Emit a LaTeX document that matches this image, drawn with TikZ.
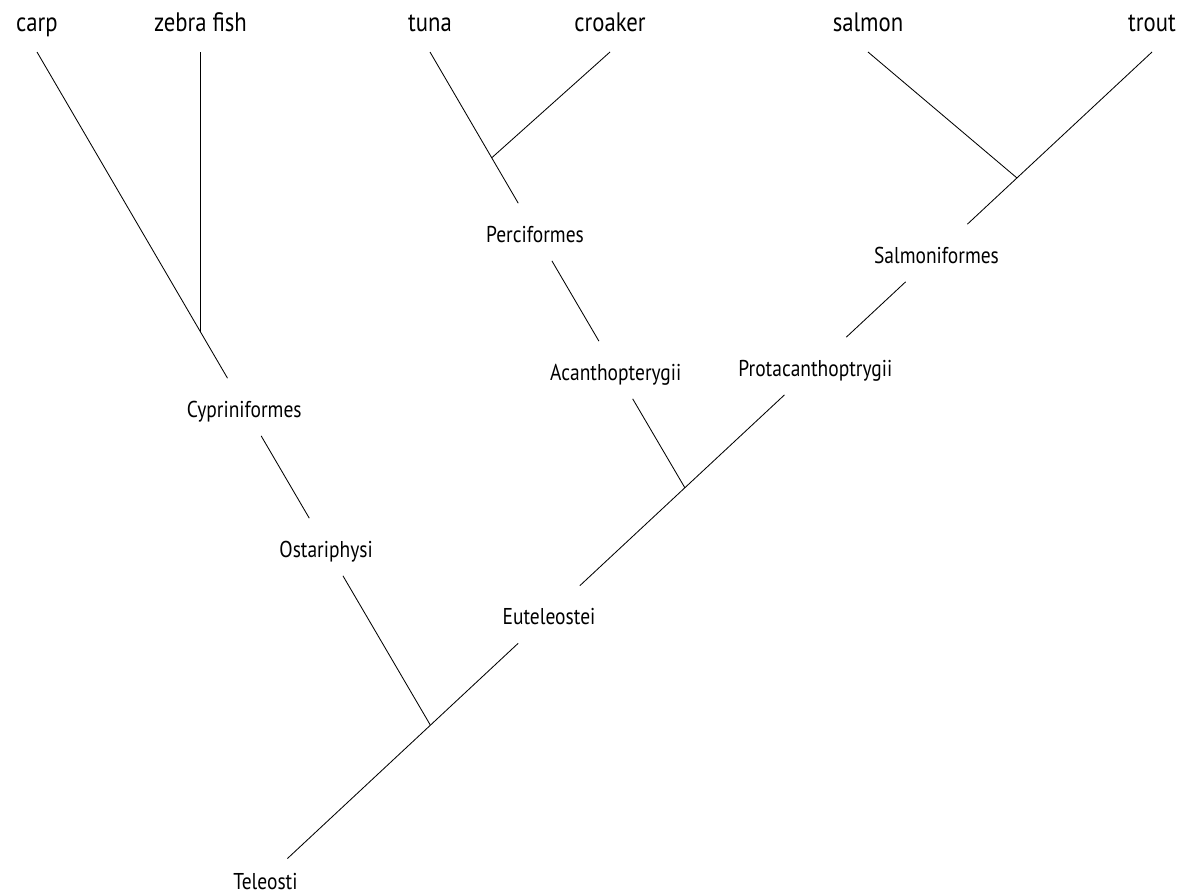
\documentclass[tikz,border=0pt]{standalone}
\usepackage{fontspec}
\setmainfont{PT Sans}[FakeStretch=0.85]
\usepackage{tikz}
\usetikzlibrary{positioning,calc}

\begin{document}
\begin{tikzpicture}[x=0.025cm, y=-0.025cm, line width=0.6pt,
  leaf/.style={anchor=south, inner xsep=1pt, inner ysep=0.5cm, text depth=0pt, font=\fontsize{19}{22}\selectfont},
  clade/.style={inner xsep=1pt, inner ysep=0.46cm, text height=0.5cm, text depth=0pt, font=\fontsize{16.3}{19}\selectfont}]
\useasboundingbox (0,0) rectangle (1190,895);
% taxa on top
\node[leaf] (carp) at (37,52) {carp};
\node[leaf] (zebra) at (200.5,52) {zebra fish};
\node[leaf] (tuna) at (430,52) {tuna};
\node[leaf] (croaker) at (610,52) {croaker};
\node[leaf] (salmon) at (868,52) {salmon};
\node[leaf] (trout) at (1152,52) {trout};
% groups
\node[clade] (cyp) at (244.3,407) {Cypriniformes};
\node[clade] (ost) at (326.1,547) {Ostariphysi};
\node[clade] (perc) at (535,232) {Perciformes};
\node[clade] (acan) at (615.8,370) {Acanthopterygii};
\node[clade] (salm) at (936.5,253) {Salmoniformes};
\node[clade] (prot) at (815.4,366) {Protacanthoptrygii};
\node[clade] (eut) at (549,614.5) {Euteleostei};
\node[clade, inner ysep=0.25cm] (tel) at (265.5,879) {Teleosti};
% branch points
\coordinate (jz) at (200.5,332);
\coordinate (jc) at (491.5,158);
\coordinate (js) at (1017,178);
\coordinate (ja) at (685,488);
\coordinate (jo) at (430.3,725);
% main line
\draw (trout.south) -- (salm);
\draw (salm) -- (prot);
\draw (prot) -- (eut);
\draw (eut) -- (tel);
\draw (salmon.south) -- (js);
% carp side
\draw (carp.south) -- (cyp);
\draw (cyp) -- (ost);
\draw (ost) -- (jo);
\draw (zebra.south) -- (jz);
% tuna side
\draw (tuna.south) -- (perc);
\draw (perc) -- (acan);
\draw (acan) -- (ja);
\draw (croaker.south) -- (jc);
\end{tikzpicture}
\end{document}
